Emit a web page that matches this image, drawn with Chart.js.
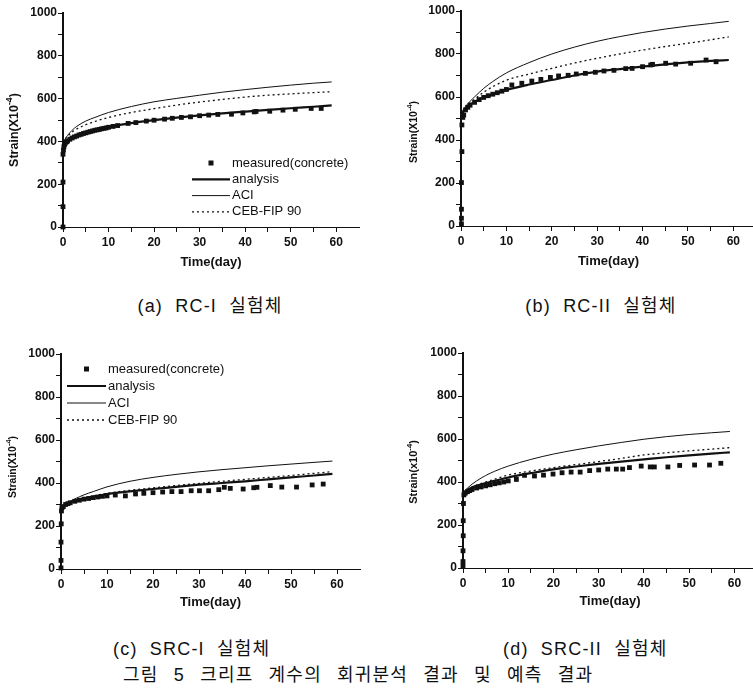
<!DOCTYPE html>
<html><head><meta charset="utf-8">
<script src="https://cdn.jsdelivr.net/npm/chart.js@4"></script>
<style>
html,body{margin:0;padding:0;background:#fff;width:753px;height:689px;overflow:hidden;position:relative}
canvas{position:absolute}
.cap{position:absolute;font-family:"Liberation Sans","Noto Sans CJK KR",sans-serif;font-size:18px;line-height:20px;color:#111;white-space:pre;word-spacing:6px;letter-spacing:1.2px}
</style></head><body>
<canvas id="cA" width="376" height="280" style="left:0;top:0"></canvas>
<canvas id="cB" width="400" height="280" style="left:376px;top:0"></canvas>
<canvas id="cC" width="376" height="290" style="left:0;top:330px"></canvas>
<canvas id="cD" width="400" height="290" style="left:376px;top:330px"></canvas>
<div class="cap" style="left:60px;width:300px;top:296px;text-align:center">(a) RC-I 실험체</div>
<div class="cap" style="left:451px;width:300px;top:296px;text-align:center">(b) RC-II 실험체</div>
<div class="cap" style="left:113px;top:639px">(c) SRC-I 실험체</div>
<div class="cap" style="left:503px;top:639px">(d) SRC-II 실험체</div>
<div class="cap" style="left:123px;top:665px;word-spacing:9px">그림 5 크리프 계수의 회귀분석 결과 및 예측 결과</div>
<script>
// ---------- data ----------
const seriesLabels = ['measured(concrete)', 'analysis', 'ACI', 'CEB-FIP 90'];
const xTickMarks = [0,5,10,15,20,25,30,35,40,45,50,55,60];
const xTickLabels = [0,10,20,30,40,50,60];
const yTickMarks = [0,100,200,300,400,500,600,700,800,900,1000];
const yTickLabels = [0,200,400,600,800,1000];
const xTitle = 'Time(day)';

const modelTime = [0,0.5,1,2,3,5,7,10,15,20,25,30,35,40,45,50,55,59];

// (a) RC-I
const aAnalysis = [375,396,405,418,428,442,452,468,485,499,511,522,531,539,547,555,562,568];
const aACI      = [390,412,428,452,470,495,512,535,563,585,601,616,630,642,653,663,672,678];
const aCEB      = [390,410,424,444,458,478,493,512,535,553,570,584,596,607,616,622,628,632];
const aMeasTime = [0,0,0,0,0.1,0.2,0.3,0.5,0.8,1,1.5,2,2.5,3,3.5,4,4.5,5,5.5,6,6.5,7,7.5,8,8.5,9,9.5,10,11,12,14.3,16,18.3,20,22.3,24,26,28,30,32,34,37,39.5,42,42.4,45.4,48.3,51,54.5,56.7];
const aMeas     = [0,95,210,340,360,375,385,392,398,402,410,416,421,425,430,433,437,440,443,446,449,452,454,456,459,461,463,466,470,474,484,488,495,499,504,508,512,515,520,523,526,527,533,538,540,541,546,550,554,554];

// (b) RC-II
const bAnalysis = [500,530,545,563,578,598,612,633,658,679,700,718,730,741,752,761,768,772];
const bACI      = [510,540,556,580,601,640,672,712,760,800,832,859,881,900,916,930,942,952];
const bCEB      = [510,538,553,573,590,622,648,678,707,733,758,780,800,818,835,850,866,880];
const bMeasTime = [0.1,0.1,0.1,0.1,0.2,0.2,0.4,0.6,1,1.5,2,3,4,5,6,7,8,9,10,11.2,13.4,15.6,17.6,19.7,21.5,23.6,25.4,27.4,29.6,31.5,33.7,36.3,37.7,40,41.8,42.2,45.1,47.3,50.6,54,56.2];
const bMeas     = [10,36,78,202,346,470,505,516,540,552,562,575,588,598,606,613,620,627,635,656,664,674,682,691,698,701,707,710,715,721,724,732,733,741,749,752,757,753,757,772,764];

// (c) SRC-I
const cAnalysis = [285,295,302,310,316,327,335,349,361,372,382,392,400,408,417,426,435,442];
const cACI      = [290,297,303,315,326,345,360,382,408,426,440,452,462,471,480,488,496,502];
const cCEB      = [288,297,305,313,320,330,340,352,366,377,388,398,408,417,426,435,445,453];
const cMeasTime = [0,0,0,0.05,0.1,0.2,0.5,1,1.5,2,3,4,5,6,7,8,9,10,11.8,14,16.2,18,20,22.1,24.1,26.1,28.3,30.1,32.1,34.3,35.5,36.8,39.6,41.9,42.6,45.5,48,51.2,54.6,57];
const cMeas     = [5,40,125,210,270,285,290,300,304,308,315,320,325,328,332,335,338,340,344,340,349,352,355,358,360,360,364,364,364,369,380,375,372,378,380,388,381,381,391,395];

// (d) SRC-II
const dAnalysis = [345,355,362,375,382,395,405,421,441,459,472,484,495,505,515,524,532,538];
const dACI      = [350,362,372,390,405,430,450,474,505,530,550,568,584,599,611,621,629,635];
const dCEB      = [348,358,365,377,386,400,413,432,451,467,481,495,510,526,536,545,553,560];
const dMeasTime = [0,0,0,0.05,0.05,0.1,0.2,0.5,1,1.5,2,3,4,5,6,7,8,9,10,11.8,13.6,15.8,17.8,19.9,21.9,23.9,25.9,28,30,32,33.9,35.3,36.8,39.4,41.4,42.3,45.3,47.9,51.2,54.5,57];
const dMeas     = [10,30,80,150,220,300,340,348,355,360,365,372,377,382,387,392,396,400,405,412,431,428,432,437,443,446,446,453,456,460,460,460,467,474,470,470,470,477,479,479,487];

// ---------- rendering ----------
const FAM = '"Liberation Sans", Arial, sans-serif';
const INK = '#111';
const zip = (xs, ys) => xs.map((x, i) => ({x: x, y: ys[i]}));

const innerLegend = {
  id: 'innerLegend',
  afterDatasetsDraw(chart, args, o) {
    if (!o || !o.show) return;
    const ctx = chart.ctx;
    ctx.save();
    ctx.font = o.fontSize + 'px ' + FAM;
    ctx.textBaseline = 'middle';
    chart.data.datasets.forEach((ds, i) => {
      const y = o.y + i * o.rowH;
      if (ds.showLine === false) {
        ctx.fillStyle = ds.backgroundColor;
        const s = 5;
        ctx.fillRect(o.x + o.sampleW / 2 - s / 2, y - s / 2, s, s);
      } else {
        ctx.strokeStyle = ds.borderColor;
        ctx.lineWidth = ds.borderWidth;
        ctx.setLineDash(ds.borderDash || []);
        ctx.beginPath(); ctx.moveTo(o.x, y); ctx.lineTo(o.x + o.sampleW, y); ctx.stroke();
        ctx.setLineDash([]);
      }
      ctx.fillStyle = INK;
      ctx.fillText(ds.label, o.x + o.sampleW + o.gap, y);
    });
    ctx.restore();
  }
};

const yTitle = {
  id: 'yTitle',
  afterDraw(chart, args, o) {
    const ctx = chart.ctx;
    ctx.save();
    ctx.translate(o.x, o.y);
    ctx.rotate(-Math.PI / 2);
    ctx.fillStyle = INK;
    ctx.textBaseline = 'middle';
    const f1 = 'bold ' + o.size + 'px ' + FAM;
    const f2 = 'bold ' + (o.size * 0.7) + 'px ' + FAM;
    ctx.font = f1; const w1 = ctx.measureText(o.text).width; const w3 = ctx.measureText(o.tail).width;
    ctx.font = f2; const w2 = ctx.measureText(o.sup).width;
    let x = -(w1 + w2 + w3) / 2;
    ctx.font = f1; ctx.fillText(o.text, x, 0); x += w1;
    ctx.font = f2; ctx.fillText(o.sup, x, -o.size * 0.4); x += w2;
    ctx.font = f1; ctx.fillText(o.tail, x, 0);
    ctx.restore();
  }
};

function makeChart(id, d, g) {
  const datasets = [
    {label: seriesLabels[0], data: zip(d.mt, d.meas), showLine: false, pointStyle: 'rect', pointRadius: 3.4,
     backgroundColor: INK, borderColor: INK, borderWidth: 0, clip: false},
    {label: seriesLabels[1], data: zip(modelTime, d.an), borderColor: INK, borderWidth: 2.2, pointRadius: 0,
     cubicInterpolationMode: 'monotone', fill: false},
    {label: seriesLabels[2], data: zip(modelTime, d.aci), borderColor: INK, borderWidth: 1, pointRadius: 0,
     cubicInterpolationMode: 'monotone', fill: false},
    {label: seriesLabels[3], data: zip(modelTime, d.ceb), borderColor: INK, borderWidth: 1.3, borderDash: [2, 3], pointRadius: 0,
     cubicInterpolationMode: 'monotone', fill: false}
  ];
  new Chart(document.getElementById(id), {
    type: 'line',
    data: {datasets},
    plugins: [innerLegend, yTitle],
    options: {
      responsive: false, animation: false, events: [],
      layout: {padding: {top: g.top, right: g.right, left: 0, bottom: 0}},
      plugins: {legend: {display: false}, tooltip: {enabled: false},
        innerLegend: g.legend || {show: false},
        yTitle: g.ytitle},
      scales: {
        x: {type: 'linear', min: 0, max: 65,
          afterBuildTicks: s => { s.ticks = xTickMarks.map(v => ({value: v})); },
          ticks: {autoSkip: false, maxRotation: 0, padding: 3, color: INK,
            font: {family: FAM, size: 12, weight: 'bold'},
            callback: v => xTickLabels.includes(v) ? String(v) : ''},
          grid: {drawOnChartArea: false, drawTicks: true, tickLength: 5, color: INK},
          border: {display: true, color: INK, width: 1},
          title: {display: true, text: xTitle, color: INK, font: {family: FAM, size: 13, weight: 'bold'},
            padding: {top: 0, bottom: g.tpad}},
          afterFit: s => { s.height = g.xh; }
        },
        y: {type: 'linear', min: 0, max: 1000,
          afterBuildTicks: s => { s.ticks = yTickMarks.map(v => ({value: v})); },
          ticks: {autoSkip: false, padding: 1, color: INK,
            font: {family: FAM, size: 12, weight: 'bold'},
            callback: v => yTickLabels.includes(v) ? String(v) : ''},
          grid: {drawOnChartArea: false, drawTicks: true, tickLength: 5, color: INK},
          border: {display: true, color: INK, width: 2},
          afterFit: s => { s.width = g.yw; }
        }
      }
    }
  });
}

makeChart('cA', {mt: aMeasTime, meas: aMeas, an: aAnalysis, aci: aACI, ceb: aCEB},
  {top: 13, right: 17, yw: 63, xh: 53, tpad: 10,
   legend: {show: true, x: 192, y: 163, rowH: 16.3, sampleW: 38, gap: 2, fontSize: 13},
   ytitle: {x: 15, y: 130, size: 12.5, text: 'Strain(X10', sup: '-4', tail: ')'}});
makeChart('cB', {mt: bMeasTime, meas: bMeas, an: bAnalysis, aci: bACI, ceb: bCEB},
  {top: 11, right: 20, yw: 85, xh: 54, tpad: 11,
   ytitle: {x: 38, y: 132, size: 10.5, text: 'Strain(X10', sup: '-4', tail: ')'}});
makeChart('cC', {mt: cMeasTime, meas: cMeas, an: cAnalysis, aci: cACI, ceb: cCEB},
  {top: 24, right: 16, yw: 61, xh: 51, tpad: 10,
   legend: {show: true, x: 67, y: 39, rowH: 17, sampleW: 39, gap: 2, fontSize: 13},
   ytitle: {x: 13, y: 137, size: 10.5, text: 'Strain(X10', sup: '-4', tail: ')'}});
makeChart('cD', {mt: dMeasTime, meas: dMeas, an: dAnalysis, aci: dACI, ceb: dCEB},
  {top: 23, right: 19, yw: 87, xh: 52, tpad: 11,
   ytitle: {x: 38, y: 142, size: 11, text: 'Strain(x10', sup: '-4', tail: ')'}});
</script>
</body></html>
